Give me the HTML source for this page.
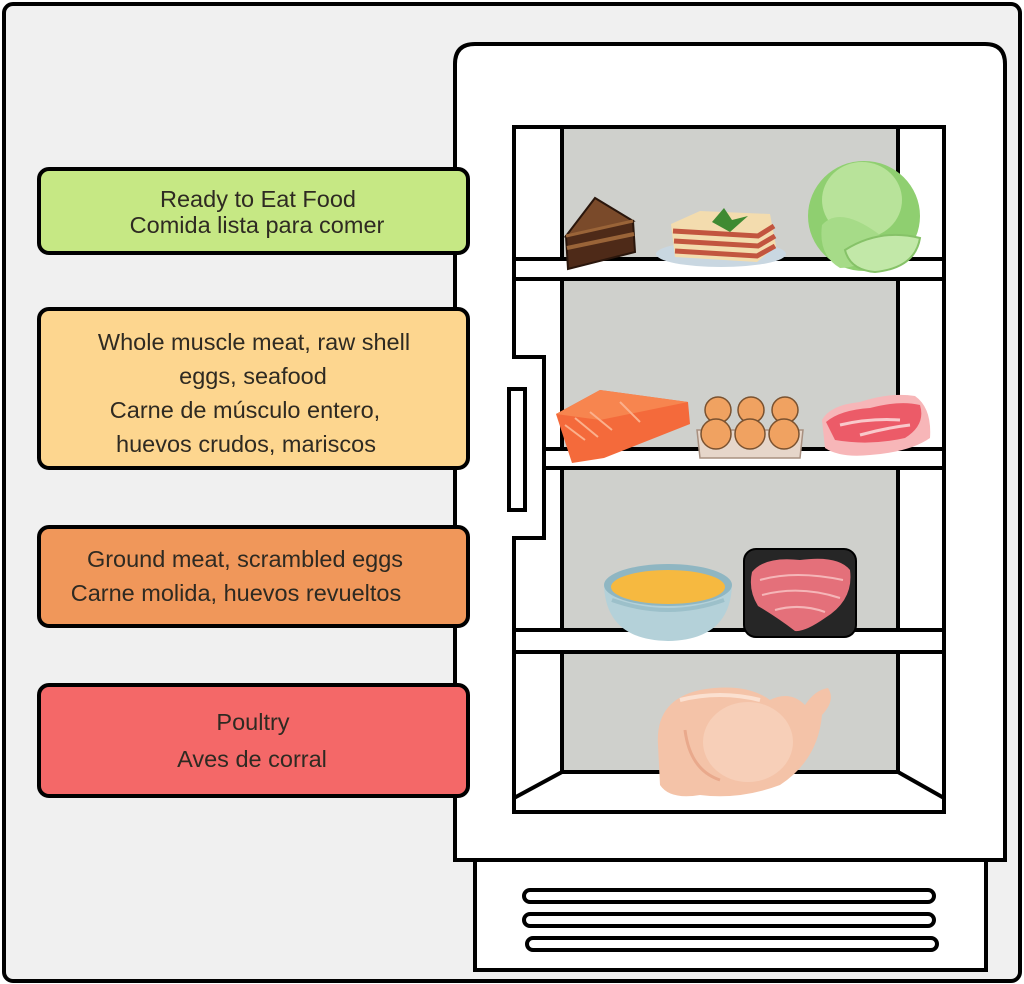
<!DOCTYPE html>
<html><head><meta charset="utf-8"><style>
html,body{margin:0;padding:0;background:#fff;}
svg{display:block;}
text{font-family:"Liberation Sans",Arial,sans-serif;font-size:23.5px;fill:#2e2a22;}
</style></head><body>
<svg width="1024" height="984" viewBox="0 0 1024 984" xmlns="http://www.w3.org/2000/svg">
<!-- outer frame -->
<rect x="4" y="4" width="1016" height="977" rx="9" fill="#f0f0f0" stroke="#000" stroke-width="4"/>
<!-- drawer -->
<rect x="475" y="858" width="511" height="112" fill="#fff" stroke="#000" stroke-width="4"/>
<rect x="524" y="890" width="410" height="12" rx="6" fill="#fff" stroke="#000" stroke-width="4"/>
<rect x="524" y="914" width="410" height="12" rx="6" fill="#fff" stroke="#000" stroke-width="4"/>
<rect x="527" y="938" width="410" height="12" rx="6" fill="#fff" stroke="#000" stroke-width="4"/>
<!-- body -->
<path d="M455,860 L455,64 Q455,44 475,44 L985,44 Q1005,44 1005,64 L1005,860 Z" fill="#fff" stroke="#000" stroke-width="4"/>
<!-- inner frame -->
<path d="M514,127 L944,127 L944,812 L514,812 L514,538 L544,538 L544,357 L514,357 Z" fill="#fff" stroke="#000" stroke-width="4"/>
<!-- gray panels -->
<g fill="#cfd0cc">
<rect x="562" y="129" width="336" height="130"/>
<rect x="562" y="279" width="336" height="170"/>
<rect x="562" y="468" width="336" height="162"/>
<rect x="562" y="652" width="336" height="120"/>
</g>
<g stroke="#000" stroke-width="4" fill="none">
<line x1="562" y1="127" x2="562" y2="259"/><line x1="898" y1="127" x2="898" y2="259"/>
<line x1="562" y1="279" x2="562" y2="449"/><line x1="898" y1="279" x2="898" y2="449"/>
<line x1="562" y1="468" x2="562" y2="630"/><line x1="898" y1="468" x2="898" y2="630"/>
<line x1="562" y1="652" x2="562" y2="772"/><line x1="898" y1="652" x2="898" y2="772"/>
<line x1="514" y1="259" x2="944" y2="259"/><line x1="514" y1="279" x2="944" y2="279"/>
<line x1="544" y1="449" x2="944" y2="449"/><line x1="544" y1="468" x2="944" y2="468"/>
<line x1="514" y1="630" x2="944" y2="630"/><line x1="514" y1="652" x2="944" y2="652"/>
<line x1="560" y1="772" x2="900" y2="772"/>
<line x1="514" y1="798" x2="562" y2="772"/><line x1="898" y1="772" x2="944" y2="798"/>
</g>
<!-- handle -->
<rect x="509" y="389" width="16" height="121" fill="#fff" stroke="#000" stroke-width="4"/>

<!-- cake -->
<path d="M566,236 L595,198 L633,221 Z" fill="#7a4a2a" stroke="#2a160c" stroke-width="2"/>
<path d="M566,236 L633,221 L635,252 L568,269 Z" fill="#4e2a18" stroke="#2a160c" stroke-width="2"/>
<path d="M567,248 L634,234" stroke="#9a6438" stroke-width="4"/>
<path d="M566,236 L633,221" stroke="#9a6438" stroke-width="3"/>
<!-- lasagna -->
<ellipse cx="721" cy="254" rx="65" ry="13" fill="#c9d7e1"/>
<path d="M671,224 L700,211 L770,214 L776,246 L757,262 L675,257 Z" fill="#f3dcae"/>
<g stroke="#c2553f" stroke-width="5" fill="none">
<path d="M673,231 L758,236 L774,226"/>
<path d="M674,241 L758,246 L775,236"/>
<path d="M675,251 L757,256 L775,246"/>
</g>
<path d="M712,222 L724,208 L732,220 L748,216 L730,232 Z" fill="#3f8a32"/>
<!-- cabbage -->
<ellipse cx="864" cy="216" rx="56" ry="55" fill="#8fcf70"/>
<ellipse cx="862" cy="200" rx="40" ry="38" fill="#b8e39a"/>
<path d="M822,225 Q840,205 880,235 Q870,268 840,268 Q818,255 822,225 Z" fill="#a6db88"/>
<path d="M845,250 Q880,228 920,238 Q915,268 875,272 Q850,270 845,250 Z" fill="#c2e8a8" stroke="#86c268" stroke-width="2"/>
<!-- salmon -->
<path d="M556,414 L600,390 L688,402 L690,424 L604,458 L572,463 Z" fill="#f46a3b"/>
<path d="M556,414 L600,390 L688,402 L600,420 Z" fill="#f7854f"/>
<g stroke="#fbb08c" stroke-width="2" fill="none">
<path d="M565,425 L585,440"/><path d="M575,418 L598,437"/><path d="M590,412 L612,430"/><path d="M620,402 L640,422"/>
</g>
<!-- eggs -->
<path d="M697,430 L803,430 L800,458 L700,458 Z" fill="#e6d6ca" stroke="#a89080" stroke-width="1.5"/>
<g fill="#f0a261" stroke="#7a5230" stroke-width="1.5">
<circle cx="718" cy="410" r="13"/><circle cx="751" cy="410" r="13"/><circle cx="785" cy="410" r="13"/>
<circle cx="716" cy="434" r="15"/><circle cx="750" cy="434" r="15"/><circle cx="784" cy="434" r="15"/>
</g>
<!-- steak -->
<path d="M822,420 Q830,405 860,402 Q890,392 915,396 Q932,408 930,438 Q910,452 870,455 Q840,458 825,448 Z" fill="#f7b6b8"/>
<path d="M826,422 Q840,410 870,408 Q900,400 920,405 Q926,425 905,438 Q870,446 835,440 Z" fill="#ec5b68"/>
<path d="M840,425 Q870,418 900,420 M860,435 Q885,428 910,425" stroke="#f9c9cb" stroke-width="3" fill="none"/>
<!-- bowl -->
<path d="M604,585 Q606,640 668,641 Q730,640 732,585 Z" fill="#b4d1d9"/>
<path d="M612,600 Q668,620 724,600" stroke="#9cc0ca" stroke-width="4" fill="none"/>
<ellipse cx="668" cy="585" rx="64" ry="21" fill="#8fb6c2"/>
<ellipse cx="668" cy="587" rx="57" ry="17" fill="#f6b940"/>
<!-- ground meat tray -->
<rect x="744" y="549" width="112" height="88" rx="12" fill="#262626" stroke="#000" stroke-width="2"/>
<path d="M752,572 Q765,556 800,560 Q838,555 850,570 Q854,600 825,618 Q805,632 795,631 Q778,618 758,606 Q748,590 752,572 Z" fill="#e4707a"/>
<path d="M760,580 Q795,570 843,580 M762,595 Q800,585 840,598 M775,610 Q800,603 825,612" stroke="#f5b6b8" stroke-width="2" fill="none"/>
<!-- chicken -->
<path d="M658,745 Q655,700 700,690 Q745,682 770,700 Q790,690 805,705 Q815,690 828,688 Q836,700 822,715 Q818,760 780,785 Q740,800 700,795 Q670,800 660,785 Z" fill="#f4c3a8"/>
<ellipse cx="748" cy="742" rx="45" ry="40" fill="#f7cfb8"/>
<path d="M680,700 Q720,690 760,700" stroke="#fbe0d0" stroke-width="4" fill="none"/>
<path d="M685,730 Q690,770 720,780" stroke="#e9a98c" stroke-width="3" fill="none"/>

<!-- labels -->
<rect x="39" y="169" width="429" height="84" rx="10" fill="#c6e884" stroke="#000" stroke-width="4"/>
<rect x="39" y="309" width="429" height="159" rx="10" fill="#fdd68f" stroke="#000" stroke-width="4"/>
<rect x="39" y="527" width="429" height="99" rx="10" fill="#f0975a" stroke="#000" stroke-width="4"/>
<rect x="39" y="685" width="429" height="111" rx="10" fill="#f46868" stroke="#000" stroke-width="4"/>
<g text-anchor="middle">
<text x="258" y="207">Ready to Eat Food</text>
<text x="257" y="233">Comida lista para comer</text>
<text x="254" y="350">Whole muscle meat, raw shell</text>
<text x="253" y="384">eggs, seafood</text>
<text x="245" y="418">Carne de músculo entero,</text>
<text x="246" y="452">huevos crudos, mariscos</text>
<text x="245" y="567">Ground meat, scrambled eggs</text>
<text x="236" y="601">Carne molida, huevos revueltos</text>
<text x="253" y="730">Poultry</text>
<text x="252" y="767">Aves de corral</text>
</g>
</svg>
</body></html>
